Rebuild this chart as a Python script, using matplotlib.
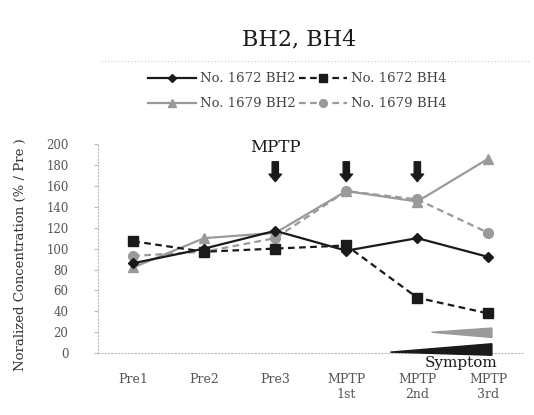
import matplotlib
matplotlib.use("Agg")
import matplotlib.pyplot as plt
from matplotlib.patches import Polygon

plt.rcParams["font.family"] = ["DejaVu Serif"]

# data
categories = ["Pre1", "Pre2", "Pre3", "MPTP\n1st", "MPTP\n2nd", "MPTP\n3rd"]
bh2_1672 = [86, 100, 117, 98, 110, 92]
bh4_1672 = [107, 97, 100, 103, 53, 38]
bh2_1679 = [82, 110, 115, 155, 145, 186]
bh4_1679 = [93, 97, 110, 155, 147, 115]
mptp_doses = [2, 3, 4]          # category index of each injection
yticks = list(range(0, 201, 20))

BLACK = "#1a1a1a"
GRAY = "#9a9a9a"

fig = plt.figure(figsize=(5.34, 4.15), dpi=100)
ax = fig.add_axes([0.183, 0.149, 0.798, 0.504])
x = range(len(categories))

l1, = ax.plot(x, bh2_1672, color=BLACK, lw=1.6, marker="D", ms=5,
              label="No. 1672 BH2", zorder=4)
l2, = ax.plot(x, bh4_1672, color=BLACK, lw=1.6, ls=(0, (3, 2)), marker="s",
              ms=6.5, label="No. 1672 BH4", zorder=3)
l3, = ax.plot(x, bh2_1679, color=GRAY, lw=1.6, marker="^", ms=7,
              label="No. 1679 BH2", zorder=2)
l4, = ax.plot(x, bh4_1679, color=GRAY, lw=1.6, ls=(0, (3, 2)), marker="o",
              ms=7, label="No. 1679 BH4", zorder=1)

ax.set_xlim(-0.5, 5.5)
ax.set_ylim(0, 200)
ax.set_xticks(list(x))
ax.set_xticklabels(categories, fontsize=9, color="#555555")
ax.set_yticks(yticks)
ax.set_yticklabels([str(v) for v in yticks], fontsize=8.5, color="#555555")
ax.tick_params(axis="x", length=0, pad=14)
ax.tick_params(axis="y", length=3, color="#bbbbbb", pad=18)
ax.set_ylabel("Noralized Concentration (% / Pre )", fontsize=9.5,
              color="#333333")
ax.yaxis.set_label_coords(-0.165, 0.47)
for side in ("top", "right"):
    ax.spines[side].set_visible(False)
for side in ("left", "bottom"):
    ax.spines[side].set_color("#bbbbbb")
    ax.spines[side].set_linestyle((0, (1, 2)))
ax.patch.set_alpha(0)

# MPTP arrows
for i in mptp_doses:
    ax.annotate("", xy=(i, 164), xytext=(i, 183),
                arrowprops=dict(arrowstyle="simple,head_length=0.6,head_width=1.0,tail_width=0.5",
                                color=BLACK, mutation_scale=9, shrinkA=0, shrinkB=0))
ax.text(2, 197, "MPTP", ha="center", va="center", fontsize=12, color=BLACK)

# symptom wedges
ax.add_patch(Polygon([(3.62, 1), (5.05, 9), (5.05, -2)], closed=True,
                     color=BLACK, clip_on=False, zorder=5))
ax.add_patch(Polygon([(4.2, 20), (5.05, 24), (5.05, 15)], closed=True,
                     color=GRAY, clip_on=False, zorder=5))
ax.text(4.62, -2.5, "Symptom", ha="center", va="top", fontsize=11,
        color=BLACK, clip_on=False)

fig.text(0.56, 0.905, "BH2, BH4", ha="center", va="center", fontsize=16,
         color=BLACK)
fig.add_artist(plt.Line2D([0.19, 0.99], [0.852, 0.852], color="#cccccc",
                          lw=0.8, ls=(0, (1, 2))))

fig.legend([l1, l3, l2, l4], [l.get_label() for l in (l1, l3, l2, l4)],
           loc="center", bbox_to_anchor=(0.557, 0.78), ncol=2, frameon=False,
           fontsize=9.5, handlelength=3.6, handletextpad=0.3, columnspacing=0.3,
           labelspacing=0.9, markerscale=0.8, labelcolor="#444444")

fig.savefig("out.png", dpi=100)
